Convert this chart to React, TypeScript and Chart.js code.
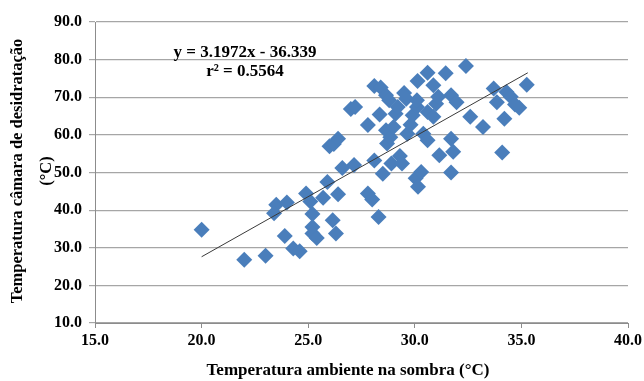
import React, { useEffect, useRef } from "react";
import { Chart, registerables } from "chart.js";

Chart.register(...registerables);

const xValues = [
  20.0, 22.0, 23.0, 23.5, 23.4, 24.0, 23.9, 24.3, 24.6, 24.9, 25.1, 25.2, 25.2, 25.2, 25.4,
  25.7, 25.9, 26.0, 26.2, 26.4, 26.4, 26.15, 26.3, 26.6, 27.0, 27.2, 27.15, 27.8, 27.8, 28.0,
  28.1, 28.1, 28.4, 28.3, 28.35, 28.5, 28.65, 28.65, 28.7, 28.85, 28.8, 28.9, 29.0, 29.1, 29.2,
  29.3, 29.4, 29.5, 29.6, 29.65, 29.8, 29.9, 30.1, 30.13, 30.1, 30.04, 30.15, 30.3, 30.4, 30.6,
  30.6, 30.6, 30.87, 30.87, 31.0, 31.1, 31.15, 31.45, 31.7, 31.7, 31.8, 31.7, 31.96, 32.4, 32.6,
  33.2, 33.7, 33.85, 34.1, 34.2, 34.3, 34.5, 34.7, 34.9, 35.25,
];
const yValues = [
  34.8, 26.8, 27.9, 41.4, 39.2, 42.0, 33.1, 29.8, 29.1, 44.4, 42.3, 39.0, 35.5, 33.8, 32.6,
  43.3, 47.5, 57.0, 57.6, 59.0, 44.2, 37.3, 33.8, 51.2, 66.9, 67.4, 52.0, 62.6, 44.4, 42.8,
  53.2, 73.0, 72.6, 38.2, 65.4, 49.7, 70.5, 61.2, 57.7, 59.4, 69.2, 52.4, 62.1, 65.6, 67.4,
  54.4, 52.4, 71.1, 69.6, 60.3, 62.7, 65.2, 67.4, 74.3, 69.2, 48.5, 46.2, 50.1, 60.3, 58.6,
  76.5, 66.1, 73.2, 64.8, 68.3, 70.1, 54.6, 76.4, 70.5, 59.0, 55.5, 50.0, 68.7, 78.3, 64.8,
  62.1, 72.3, 68.7, 55.3, 64.3, 71.4, 70.1, 68.1, 67.2, 73.3,
];
const trendX = [20.0, 35.3];
const trendY = [27.6, 76.5];
const equationLines = ["y = 3.1972x - 36.339", "r\u00b2 = 0.5564"];
const xTitle = "Temperatura ambiente na sombra (\u00b0C)";
const yTitleLines = ["Temperatura c\u00e2mara de desidrata\u00e7\u00e3o", "(\u00b0C)"];

const FONT = "'Liberation Serif', 'Times New Roman', serif";

export default function App() {
  const ref = useRef<HTMLCanvasElement | null>(null);
  useEffect(() => {
    if (!ref.current) return;
    const textPlugin = {
      id: "texts",
      afterDraw(chart: any) {
        const ctx = chart.ctx;
        ctx.save();
        ctx.fillStyle = "#000";
        ctx.font = `bold 17px ${FONT}`;
        ctx.textAlign = "center";
        ctx.textBaseline = "middle";
        ctx.fillText(equationLines[0], 245, 53);
        ctx.fillText(equationLines[1], 245, 72);
        ctx.font = `bold 17px ${FONT}`;
        ctx.fillText(xTitle, 348, 371);
        ctx.font = `bold 16.5px ${FONT}`;
        ctx.translate(18, 171);
        ctx.rotate(-Math.PI / 2);
        ctx.fillText(yTitleLines[0], 0, 0);
        ctx.fillText(yTitleLines[1], 0, 29);
        ctx.restore();
      },
    };
    const chart = new Chart(ref.current, {
      type: "scatter",
      data: {
        datasets: [
          {
            type: "line",
            data: trendX.map((x, i) => ({ x, y: trendY[i] })),
            borderColor: "#3a3a3a",
            borderWidth: 1,
            pointRadius: 0,
            fill: false,
            order: 0,
          } as any,
          {
            data: xValues.map((x, i) => ({ x, y: yValues[i] })),
            pointStyle: "rectRot",
            pointRadius: 8,
            backgroundColor: "#4A7EBB",
            borderColor: "#4A7EBB",
            borderWidth: 0,
            order: 1,
          },
        ],
      },
      options: {
        responsive: false,
        animation: false,
        layout: { padding: { top: 22, right: 16, left: 0, bottom: 0 } },
        plugins: { legend: { display: false }, tooltip: { enabled: false } },
        scales: {
          x: {
            type: "linear",
            min: 15,
            max: 40,
            ticks: {
              stepSize: 5,
              padding: 3,
              color: "#000",
              font: { family: FONT, size: 16, weight: "bold" },
              callback: (v: any) => Number(v).toFixed(1),
            },
            grid: { display: true, drawOnChartArea: false, drawTicks: true, tickLength: 5, color: "#8c8c8c" },
            border: { display: true, color: "#8c8c8c" },
            afterFit: (s: any) => {
              s.height = 58;
              s.paddingLeft = 0;
              s.paddingRight = 0;
            },
          },
          y: {
            type: "linear",
            min: 10,
            max: 90,
            ticks: {
              stepSize: 10,
              padding: 7,
              color: "#000",
              font: { family: FONT, size: 16, weight: "bold" },
              callback: (v: any) => Number(v).toFixed(1),
            },
            grid: { color: "#a6a6a6", tickLength: 6, lineWidth: 1.2 },
            border: { display: true, color: "#8c8c8c" },
            afterFit: (s: any) => {
              s.width = 95;
              s.paddingTop = 0;
              s.paddingBottom = 0;
            },
          },
        },
      },
      plugins: [textPlugin],
    });
    return () => chart.destroy();
  }, []);
  return (
    <div style={{ position: "absolute", left: 0, top: 0, width: 644, height: 381, background: "#fff" }}>
      <canvas ref={ref} width={644} height={381} />
    </div>
  );
}
